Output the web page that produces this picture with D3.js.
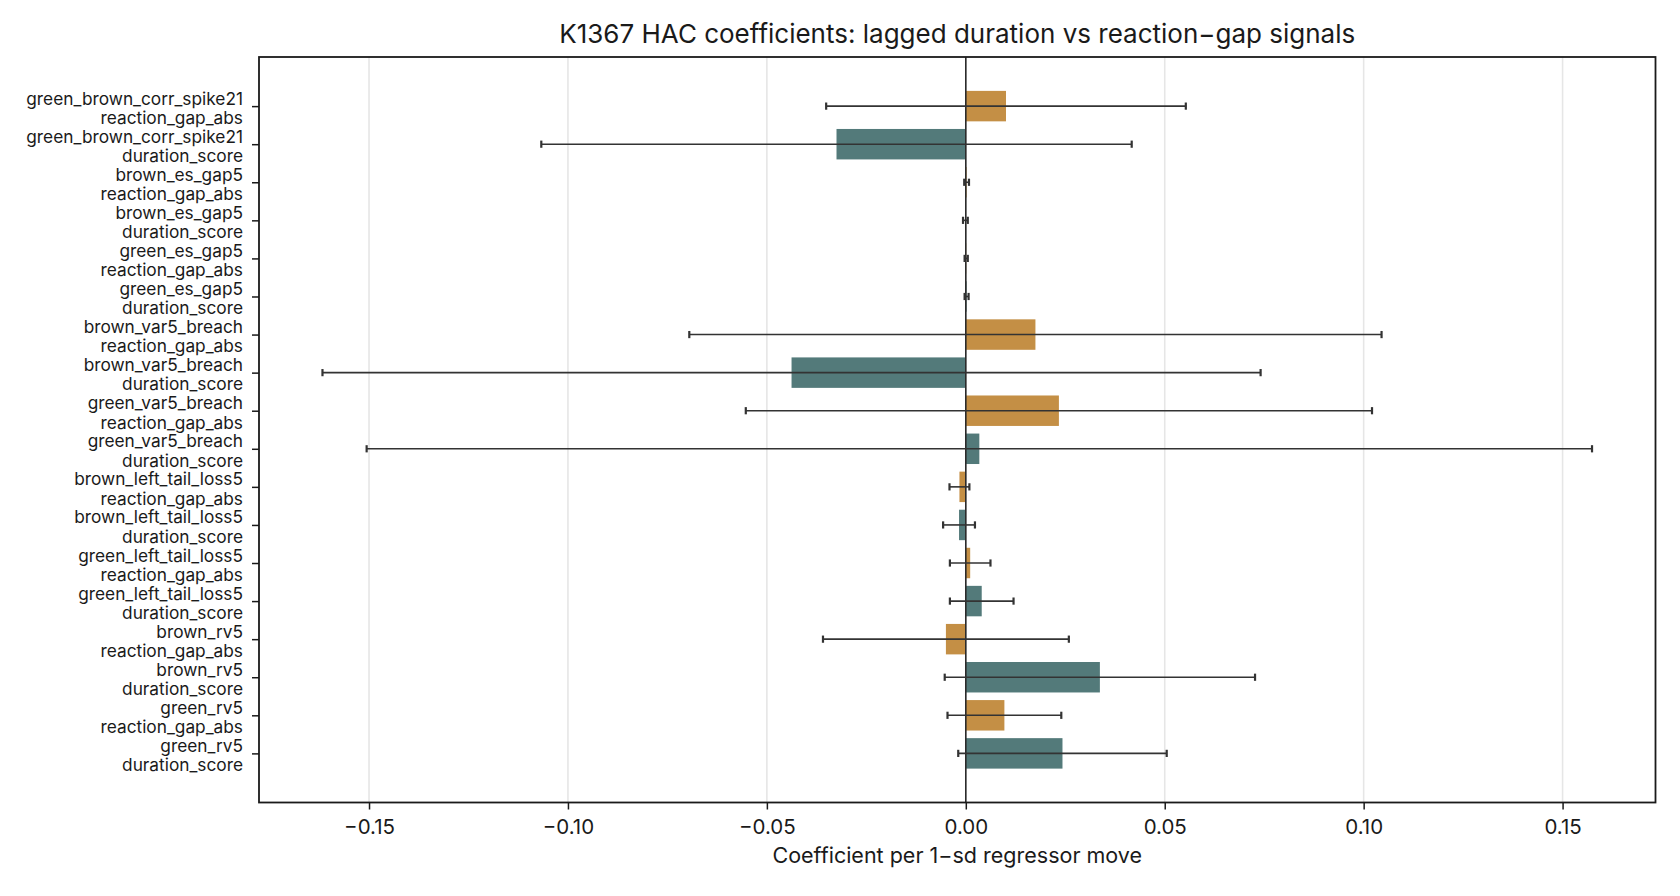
<!doctype html>
<html lang="en">
<head>
  <meta charset="UTF-8">
  <script src="https://cdn.jsdelivr.net/npm/d3@7/dist/d3.min.js"></script>
  <title>K1367 HAC coefficients</title>
  <style>
    body{ margin:0; background:#fff; }
    svg{ display:block; font-family: Inter, "Liberation Sans", sans-serif; }
  </style>
</head>
<body>
  <div class="chart"></div>
  <script>
    // rows, top to bottom
    const regressors = [
      'green_brown_corr_spike21', 'green_brown_corr_spike21',
      'brown_es_gap5', 'brown_es_gap5',
      'green_es_gap5', 'green_es_gap5',
      'brown_var5_breach', 'brown_var5_breach',
      'green_var5_breach', 'green_var5_breach',
      'brown_left_tail_loss5', 'brown_left_tail_loss5',
      'green_left_tail_loss5', 'green_left_tail_loss5',
      'brown_rv5', 'brown_rv5',
      'green_rv5', 'green_rv5'
    ];
    const terms = [
      'reaction_gap_abs', 'duration_score', 'reaction_gap_abs', 'duration_score',
      'reaction_gap_abs', 'duration_score', 'reaction_gap_abs', 'duration_score',
      'reaction_gap_abs', 'duration_score', 'reaction_gap_abs', 'duration_score',
      'reaction_gap_abs', 'duration_score', 'reaction_gap_abs', 'duration_score',
      'reaction_gap_abs', 'duration_score'
    ];
    const coef = [
      0.0101, -0.0325, 0.0002, -0.0001, 0.0001, 0.0002,
      0.0175, -0.0438, 0.0234, 0.0034, -0.0016, -0.0017,
      0.0011, 0.0040, -0.0050, 0.0337, 0.0097, 0.0243
    ];
    const ciHalf = [
      0.0452, 0.0742, 0.0006, 0.0006, 0.0004, 0.0005,
      0.0870, 0.1179, 0.0787, 0.1540, 0.0025, 0.0040,
      0.0051, 0.0080, 0.0309, 0.0390, 0.0143, 0.0262
    ];
    const xTicks = [-0.15, -0.10, -0.05, 0, 0.05, 0.10, 0.15];
    const termColor = { reaction_gap_abs: '#c48f45', duration_score: '#537a7a' };

    const W = 1680, H = 896;
    const margin = { top: 57, right: 24.5, bottom: 93.5, left: 259 };
    const n = coef.length;

    const svg = d3.select('.chart').append('svg')
      .attr('width', W).attr('height', H);

    // x limits like matplotlib autoscale: data extent + 5%
    const lo = d3.min(coef, (c, i) => c - ciHalf[i]);
    const hi = d3.max(coef, (c, i) => c + ciHalf[i]);
    const padX = (hi - lo) * 0.05;
    const x = d3.scaleLinear().domain([lo - padX, hi + padX]).range([margin.left, W - margin.right]);
    const padY = (n - 1 + 0.8) * 0.05;
    const y = d3.scaleLinear().domain([-0.4 - padY, n - 1 + 0.4 + padY]).range([margin.top, H - margin.bottom]);

    const yTop = margin.top, yBot = H - margin.bottom;

    // grid
    svg.append('g').selectAll('line').data(xTicks).enter().append('line')
      .attr('x1', d => x(d)).attr('x2', d => x(d))
      .attr('y1', yTop).attr('y2', yBot)
      .attr('stroke', '#e6e6e6').attr('stroke-width', 1.6);

    // bars
    svg.append('g').selectAll('rect').data(coef).enter().append('rect')
      .attr('x', d => Math.min(x(0), x(d)))
      .attr('width', d => Math.abs(x(d) - x(0)))
      .attr('y', (d, i) => y(i - 0.4))
      .attr('height', (d, i) => y(i + 0.4) - y(i - 0.4))
      .attr('fill', (d, i) => termColor[terms[i]]);

    // zero line
    svg.append('line')
      .attr('x1', x(0)).attr('x2', x(0)).attr('y1', yTop).attr('y2', yBot)
      .attr('stroke', '#2b2b2b').attr('stroke-width', 1.6);

    // error bars
    const eb = svg.append('g').attr('stroke', '#333');
    coef.forEach((c, i) => {
      const yy = y(i);
      eb.append('line').attr('x1', x(c - ciHalf[i])).attr('x2', x(c + ciHalf[i]))
        .attr('y1', yy).attr('y2', yy).attr('stroke-width', 1.6);
      [c - ciHalf[i], c + ciHalf[i]].forEach(v => {
        eb.append('line').attr('x1', x(v)).attr('x2', x(v))
          .attr('y1', yy - 3.6).attr('y2', yy + 3.6).attr('stroke-width', 2.2);
      });
    });

    // axes
    const xAxis = svg.append('g').attr('transform', `translate(0,${yBot})`)
      .call(d3.axisBottom(x).tickValues(xTicks).tickSize(7).tickPadding(9.5).tickFormat(d3.format('.2f')));
    xAxis.select('.domain').remove();
    xAxis.selectAll('.tick line').attr('stroke', '#1a1a1a').attr('stroke-width', 1.5);
    xAxis.selectAll('text').attr('font-size', 20.5).attr('fill', '#1a1a1a');
    xAxis.attr('font-family', null);

    const yAxis = svg.append('g').attr('transform', `translate(${margin.left},0)`)
      .call(d3.axisLeft(y).tickValues(d3.range(n)).tickSize(7).tickFormat(''));
    yAxis.select('.domain').remove();
    yAxis.selectAll('.tick line').attr('stroke', '#1a1a1a').attr('stroke-width', 1.5);

    const labels = svg.append('g').attr('text-anchor', 'end').attr('font-size', 17.3).attr('fill', '#1a1a1a');
    regressors.forEach((r, i) => {
      const t = labels.append('text').attr('x', margin.left - 16).attr('y', y(i) - 1.5);
      t.append('tspan').text(r);
      t.append('tspan').attr('x', margin.left - 16).attr('dy', 19.3).text(terms[i]);
    });

    // frame
    svg.append('rect')
      .attr('x', margin.left).attr('y', yTop)
      .attr('width', W - margin.right - margin.left).attr('height', yBot - yTop)
      .attr('fill', 'none').attr('stroke', '#1a1a1a').attr('stroke-width', 1.8);

    svg.append('text')
      .attr('x', (margin.left + W - margin.right) / 2).attr('y', 42.5)
      .attr('text-anchor', 'middle').attr('font-size', 26).attr('fill', '#1a1a1a')
      .text('K1367 HAC coefficients: lagged duration vs reaction\u2212gap signals');

    svg.append('text')
      .attr('x', (margin.left + W - margin.right) / 2).attr('y', 863)
      .attr('text-anchor', 'middle').attr('font-size', 21.5).attr('fill', '#1a1a1a')
      .text('Coefficient per 1\u2212sd regressor move');
  </script>
</body>
</html>
